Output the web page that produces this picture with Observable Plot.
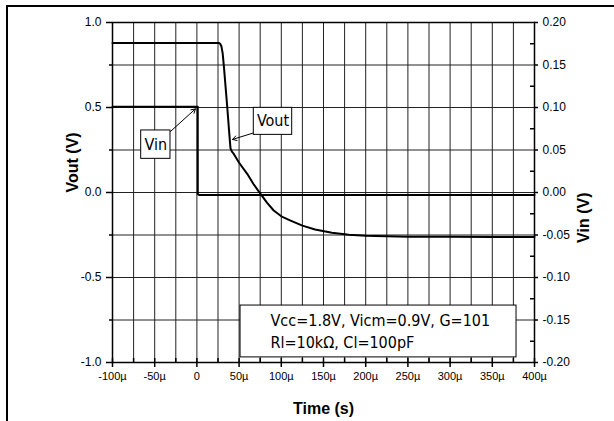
<!DOCTYPE html>
<html><head><meta charset="utf-8">
<script src="https://cdn.jsdelivr.net/npm/d3@7"></script>
<script src="https://cdn.jsdelivr.net/npm/@observablehq/plot@0.6"></script>
<style>
html,body{margin:0;padding:0;background:#fff;}
#wrap{position:relative;width:614px;height:421px;overflow:hidden;}
#chart{position:absolute;left:0;top:0;}
#frame{position:absolute;left:6px;top:5px;width:700px;height:600px;border-left:2px solid #000;border-top:2px solid #000;pointer-events:none;}
</style></head><body>
<div id="wrap"><div id="chart"></div><div id="frame"></div></div>
<script>
// ---- data (time in µs, Vout in V, Vin in V) ----
const voutTime = [-100, 26, 27.5, 29, 30.5, 32, 34, 36, 38, 39.8, 41.5, 43.7, 50, 59.6, 67, 75.4, 83, 91, 100, 111, 125, 140, 160, 180, 200, 225, 250, 300, 350, 400];
const voutValue = [0.88, 0.88, 0.875, 0.86, 0.82, 0.74, 0.62, 0.50, 0.37, 0.26, 0.24, 0.227, 0.175, 0.11, 0.05, -0.008, -0.06, -0.106, -0.14, -0.165, -0.195, -0.218, -0.237, -0.248, -0.254, -0.258, -0.26, -0.261, -0.262, -0.262];
const vinTime = [-100, 1, 1.05, 3, 400];
const vinValue = [0.101, 0.101, -0.002, -0.003, -0.003];

// axis ticks
const xMajorTicks = [-100, -50, 0, 50, 100, 150, 200, 250, 300, 350, 400];
const xMinorTicks = [-75, -25, 25, 75, 125, 175, 225, 275, 325, 375];
const xGrid = [-75, -50, -25, 0, 25, 50, 75, 100, 125, 150, 175, 200, 225, 250, 275, 300, 325, 350, 375];
const voutMajorTicks = [-1, -0.5, 0, 0.5, 1];
const voutMinorTicks = [-0.75, -0.25, 0.25, 0.75];
const yGrid = [-0.75, -0.5, -0.25, 0, 0.25, 0.5, 0.75];
const vinTickLabels = [-0.20, -0.15, -0.10, -0.05, 0.00, 0.05, 0.10, 0.15, 0.20];
const vinMinorTicks = [-0.175, -0.125, -0.075, -0.025, 0.025, 0.075, 0.125, 0.175];
const vinToVout = 5; // right axis ±0.2 V maps onto left axis ±1 V

// annotations (data coordinates: µs, Vout-axis volts)
const calloutText = ["Vin", "Vout"];
const calloutCx = [-48.7, 90.2];
const calloutCy = [0.282, 0.419];
const calloutX1 = [-66.0, 67.4];
const calloutX2 = [-31.3, 112.9];
const calloutY1 = [0.198, 0.339];
const calloutY2 = [0.365, 0.498];
const arrowFromX = [-31.3, 67.4];
const arrowFromY = [0.359, 0.351];
const arrowToX = [-1.7, 42.2];
const arrowToY = [0.492, 0.312];
const noteLines = ["Vcc=1.8V, Vicm=0.9V, G=101", "Rl=10k\u03A9, Cl=100pF"];
const noteX = [87.2, 87.2];
const noteY = [-0.788, -0.912];
const noteBox = {x1: 51.7, x2: 378.7, y1: -0.97, y2: -0.665};

const vout = voutTime.map((t, i) => ({t, v: voutValue[i]}));
const vin = vinTime.map((t, i) => ({t, v: vinValue[i] * vinToVout}));
const callouts = calloutText.map((s, i) => ({s, cx: calloutCx[i], cy: calloutCy[i], x1: calloutX1[i], x2: calloutX2[i], y1: calloutY1[i], y2: calloutY2[i], ax1: arrowFromX[i], ay1: arrowFromY[i], ax2: arrowToX[i], ay2: arrowToY[i]}));
const notes = noteLines.map((s, i) => ({s, x: noteX[i], y: noteY[i]}));

const W = 614, H = 421, ML = 112, MR = 80, MT = 22, MB = 59;
const FW = W - ML - MR, FH = H - MT - MB;
const annFont = "'DejaVu Sans Condensed', 'DejaVu Sans', sans-serif";

const chart = Plot.plot({
  width: W, height: H,
  marginLeft: ML, marginRight: MR, marginTop: MT, marginBottom: MB,
  style: {fontFamily: "'Liberation Sans', Arial, sans-serif", background: "#fff", color: "#000"},
  x: {domain: [-100, 400], axis: null},
  y: {domain: [-1, 1], axis: null},
  marks: [
    Plot.ruleX(xGrid, {stroke: "#222", strokeWidth: 1}),
    Plot.ruleY(yGrid, {stroke: "#222", strokeWidth: 1}),
    Plot.line(vin, {x: "t", y: "v", stroke: "#000", strokeWidth: 2}),
    Plot.line(vout, {x: "t", y: "v", stroke: "#000", strokeWidth: 2, curve: "linear"}),
    // legend note box
    Plot.rect([noteBox], {x1: "x1", x2: "x2", y1: "y1", y2: "y2", fill: "#fff", stroke: "#000", strokeWidth: 1}),
    Plot.text(notes, {x: "x", y: "y", text: "s", textAnchor: "start", lineAnchor: "bottom", fontSize: 16, fontFamily: annFont, fill: "#000"}),
    // ticks
    Plot.tickY(voutMajorTicks, {y: d => d, insetLeft: -6, insetRight: FW, stroke: "#000", strokeWidth: 1.5}),
    Plot.tickY(voutMinorTicks, {y: d => d, insetLeft: -3, insetRight: FW, stroke: "#000", strokeWidth: 1.5}),
    Plot.tickY(vinTickLabels.map(d => d * vinToVout), {y: d => d, insetLeft: FW, insetRight: -4, stroke: "#000", strokeWidth: 1.5}),
    Plot.tickY(vinMinorTicks.map(d => d * vinToVout), {y: d => d, insetLeft: FW - 4, insetRight: 0, stroke: "#000", strokeWidth: 1.5}),
    Plot.tickX(xMajorTicks, {x: d => d, insetTop: FH - 4, insetBottom: -5, stroke: "#000", strokeWidth: 1.5}),
    Plot.tickX(xMinorTicks, {x: d => d, insetTop: FH - 4, insetBottom: 0, stroke: "#000", strokeWidth: 1.5}),
    Plot.frame({stroke: "#000", strokeWidth: 1.5}),
    // tick labels
    Plot.axisX(xMajorTicks, {tickSize: 0, tickPadding: 10, fontSize: 11, tickFormat: d => d === 0 ? "0" : d + "\u00B5", label: null}),
    Plot.axisY(voutMajorTicks, {anchor: "left", tickSize: 0, tickPadding: 11, fontSize: 12, tickFormat: d => d.toFixed(1), label: null}),
    Plot.axisY(vinTickLabels.map(d => d * vinToVout), {anchor: "right", tickSize: 0, tickPadding: 8, fontSize: 12, tickFormat: d => (d / vinToVout).toFixed(2), label: null}),
    // axis titles
    Plot.text(["Time (s)"], {frameAnchor: "bottom", dy: 46, text: d => d, fontSize: 16, fontWeight: "bold", lineAnchor: "middle"}),
    Plot.text(["Vout (V)"], {frameAnchor: "left", dx: -40, rotate: -90, text: d => d, fontSize: 16, fontWeight: "bold", lineAnchor: "middle"}),
    Plot.text(["Vin (V)"], {frameAnchor: "right", dx: 49, rotate: -90, text: d => d, fontSize: 16, fontWeight: "bold", lineAnchor: "middle"}),
    // callouts
    Plot.arrow(callouts, {x1: "ax1", y1: "ay1", x2: "ax2", y2: "ay2", stroke: "#000", strokeWidth: 1, headLength: 7}),
    Plot.rect(callouts, {x1: "x1", x2: "x2", y1: "y1", y2: "y2", fill: "#fff", stroke: "#000", strokeWidth: 1}),
    Plot.text(callouts, {x: "cx", y: "cy", text: "s", fontSize: 16, fontFamily: annFont, fill: "#000", lineAnchor: "middle"})
  ]
});
document.getElementById("chart").appendChild(chart);
</script>
</body></html>
